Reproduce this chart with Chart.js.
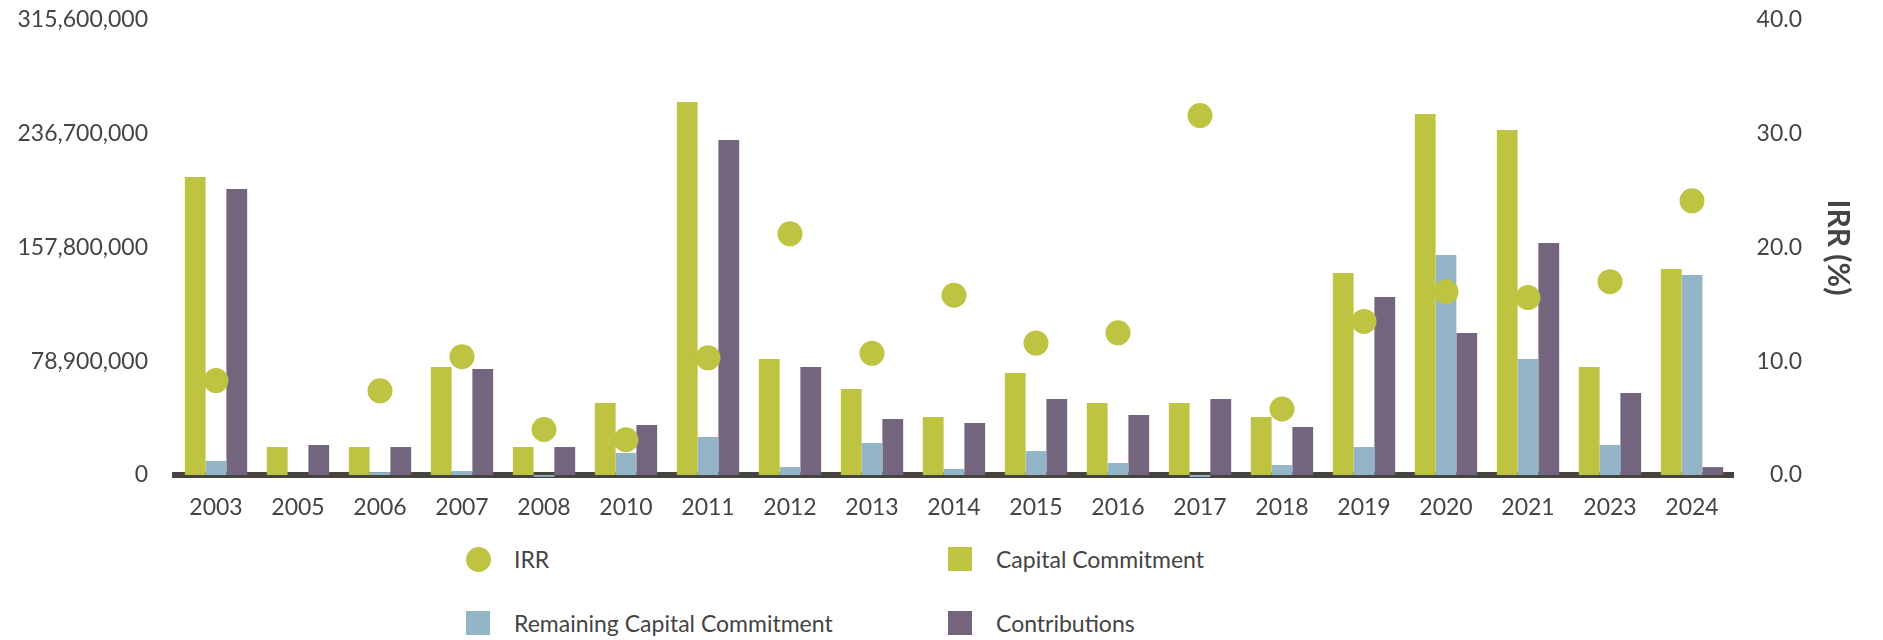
<!DOCTYPE html>
<html>
<head>
<meta charset="utf-8">
<script src="https://cdn.jsdelivr.net/npm/chart.js@4"></script>
<style>
    body { margin: 0; background: #fff; font-family: Lato, sans-serif; color: #444; }
    #wrap { position: relative; width: 1883px; height: 527px; }
    #legend { display: grid; grid-template-columns: 482px 482px; margin-left: 466px; }
    .item { display: flex; align-items: center; height: 64px; font-size: 23px; }
    .mark { width: 24px; height: 24px; margin-right: 24px; }
    .mark.circle { border-radius: 50%; width: 25px; height: 25px; margin-right: 23px; }
</style>
</head>
<body>
<div id="wrap"><canvas id="fundChart"></canvas></div>
<div id="legend"></div>

<script>
// --- Дані ---
const years = ['2003', '2005', '2006', '2007', '2008', '2010', '2011', '2012', '2013', '2014',
               '2015', '2016', '2017', '2018', '2019', '2020', '2021', '2023', '2024'];
const capitalCommitment = [206.7, 19.4, 19.4, 74.9, 19.4, 49.9, 258.7, 80.5, 59.6, 40.2,
                           70.7, 49.9, 49.9, 40.2, 140.1, 250.4, 239.3, 74.9, 142.9];
const remainingCommitment = [9.7, 0, 2.0, 2.8, -1.2, 15.3, 26.4, 5.5, 22.2, 4.2,
                             16.6, 8.3, -1.4, 6.9, 19.4, 152.6, 80.5, 20.8, 138.7];
const contributions = [198.4, 20.8, 19.4, 73.5, 19.4, 34.7, 232.4, 74.9, 38.8, 36.1,
                       52.7, 41.6, 52.7, 33.3, 123.5, 98.5, 160.9, 56.9, 5.5];
const irr = [8.3, null, 7.4, 10.4, 4.0, 3.1, 10.3, 21.2, 10.7, 15.8,
             11.6, 12.5, 31.6, 5.8, 13.5, 16.1, 15.6, 17.0, 24.1];
const leftTicks = [0, 78900000, 157800000, 236700000, 315600000];
const rightTicks = [0, 10, 20, 30, 40];

const colors = { green: '#bec341', blue: '#94b5c7', purple: '#74657e', axis: '#45443f', text: '#444' };
const M = v => v * 1000000;

Chart.defaults.font.family = 'Lato';
Chart.defaults.font.size = 23;
Chart.defaults.color = colors.text;

const barDefaults = { categoryPercentage: 0.76, barPercentage: 1.0, borderWidth: 0, clip: false, yAxisID: 'y' };

// фіксована ширина осі, без додаткових відступів зверху/знизу
const fixWidth = w => s => { s.width = w; s.paddingTop = 0; s.paddingBottom = 0; };

const chart = new Chart(document.getElementById('fundChart'), {
    type: 'bar',
    data: {
        labels: years,
        datasets: [
            { type: 'line', label: 'IRR', data: irr, yAxisID: 'y1', showLine: false,
              pointRadius: 12.5, pointHoverRadius: 12.5, pointBackgroundColor: colors.green,
              pointBorderWidth: 0, backgroundColor: colors.green, borderColor: colors.green, pointStyle: 'circle' },
            { ...barDefaults, label: 'Capital Commitment', data: capitalCommitment.map(M), backgroundColor: colors.green },
            { ...barDefaults, label: 'Remaining Capital Commitment', data: remainingCommitment.map(M), backgroundColor: colors.blue },
            { ...barDefaults, label: 'Contributions', data: contributions.map(M), backgroundColor: colors.purple }
        ]
    },
    options: {
        responsive: true,
        maintainAspectRatio: false,
        animation: false,
        layout: { padding: { top: 20, left: 0, right: 81, bottom: 0 } },
        plugins: { legend: { display: false }, tooltip: { enabled: false } },
        scales: {
            x: {
                grid: { display: false, drawTicks: false },
                border: { display: true, color: colors.axis, width: 6 },
                ticks: { padding: 19, maxRotation: 0 },
                afterFit: s => { s.height = 52; }
            },
            y: {
                position: 'left',
                min: leftTicks[0], max: leftTicks[leftTicks.length - 1],
                afterBuildTicks: s => { s.ticks = leftTicks.map(v => ({ value: v })); },
                grid: { display: false, drawTicks: false },
                border: { display: false },
                ticks: { padding: 27, callback: v => v.toLocaleString('en-US') },
                afterFit: fixWidth(175)
            },
            y1: {
                position: 'right',
                min: rightTicks[0], max: rightTicks[rightTicks.length - 1],
                afterBuildTicks: s => { s.ticks = rightTicks.map(v => ({ value: v })); },
                grid: { display: false, drawTicks: false },
                border: { display: false },
                ticks: { padding: 23, crossAlign: 'far', callback: v => Number(v).toFixed(1) },
                // заголовок виноситься правіше за межу шкали (правий відступ 81px)
                title: { display: true, text: 'IRR (%)', font: { size: 30, weight: 'bold' }, padding: { top: -54 }, color: colors.text },
                afterFit: fixWidth(69)
            }
        }
    }
});

// --- Легенда (HTML, дві колонки) ---
const legend = document.getElementById('legend');
chart.data.datasets.forEach(ds => {
    const color = ds.type === 'line' ? ds.pointBackgroundColor : ds.backgroundColor;
    legend.innerHTML += `
        <div class="item">
            <span class="mark ${ds.type === 'line' ? 'circle' : ''}" style="background:${color}"></span>
            <span>${ds.label}</span>
        </div>`;
});
</script>
</body>
</html>
